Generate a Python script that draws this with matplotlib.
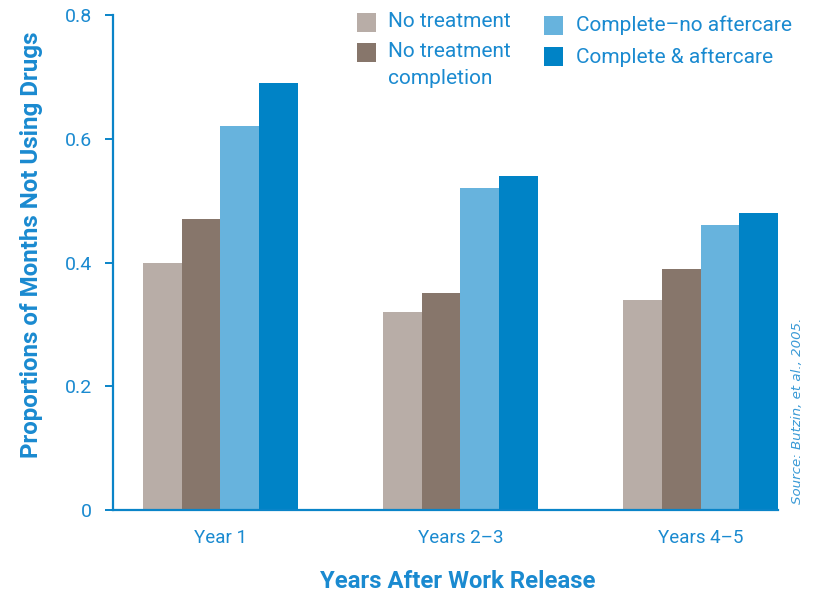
import matplotlib
matplotlib.use("Agg")
import matplotlib.pyplot as plt
from matplotlib.patches import Rectangle
import numpy as np

categories = ["Year 1", "Years 2\u20133", "Years 4\u20135"]
series_names = ["No treatment", "No treatment\ncompletion", "Complete\u2013no aftercare", "Complete & aftercare"]
no_treatment = [0.40, 0.32, 0.34]
no_completion = [0.47, 0.35, 0.39]
complete_no_aftercare = [0.62, 0.52, 0.46]
complete_aftercare = [0.69, 0.54, 0.48]
yticks = [0, 0.2, 0.4, 0.6, 0.8]
ytick_labels = ["0", "0.2", "0.4", "0.6", "0.8"]

colors = ["#B8ADA7", "#87766B", "#67B3DD", "#0083C6"]
text_blue = "#1A8AD0"
axis_blue = "#0A84C8"

plt.rcParams['font.family'] = ['Roboto', 'DejaVu Sans']

W, H = 813, 594
fig = plt.figure(figsize=(W / 100, H / 100), dpi=100)
ax = fig.add_axes([113 / W, 84 / H, 665 / W, 495 / H])

x = np.arange(len(categories))
w = 0.161
series = [no_treatment, no_completion, complete_no_aftercare, complete_aftercare]
for i, (vals, name, c) in enumerate(zip(series, series_names, colors)):
    ax.bar(x + (i - 1.5) * w, vals, width=w, color=c, label=name, linewidth=0)

ax.set_xlim(-0.447, 2.3225)
ax.set_ylim(0, 0.8)
ax.set_yticks(yticks)
ax.set_yticklabels(ytick_labels)
ax.set_xticks(x)
ax.set_xticklabels(categories)

for s in ["top", "right"]:
    ax.spines[s].set_visible(False)
for s in ["left", "bottom"]:
    ax.spines[s].set_color(axis_blue)
    ax.spines[s].set_linewidth(1.6)

ax.tick_params(axis="y", colors=axis_blue, labelcolor=text_blue, length=6, width=1.4,
               pad=9, labelsize=14)
ax.tick_params(axis="x", length=0, pad=14, labelcolor=text_blue, labelsize=13.5)

ax.set_ylabel("Proportions of Months Not Using Drugs", color=text_blue, fontsize=17.4,
              fontweight="bold")
ax.yaxis.set_label_coords(-0.122, 0.535)
ax.yaxis.label.set_va("center")
ax.set_xlabel("Years After Work Release", color=text_blue, fontsize=17.2,
              fontweight="bold")
ax.xaxis.set_label_coords(0.519, -0.145)
ax.xaxis.label.set_va("center")

# manual legend (pixel layout from the reference), two columns
handle_px = [(357, 13), (357, 43), (544, 16), (544, 47)]
text_px = [(388, 12), (388, 42), (576, 15), (576, 47)]
hs = 19
for (hx, hy), (tx, ty), name, c in zip(handle_px, text_px, series_names, colors):
    fig.patches.append(Rectangle((hx / W, 1 - (hy + hs) / H), hs / W, hs / H,
                                 transform=fig.transFigure, color=c, linewidth=0))
    fig.text(tx / W, 1 - ty / H, name, color=text_blue, fontsize=15, ha="left",
             va="top", linespacing=1.5)

fig.text(797 / W, 1 - 411 / H, "Source: Butzin, et al., 2005.", rotation=90, color="#3A9AD6",
         fontsize=9.6, style="italic", ha="center", va="center",
         family=["DejaVu Sans"])

fig.savefig("out.png", dpi=100)
